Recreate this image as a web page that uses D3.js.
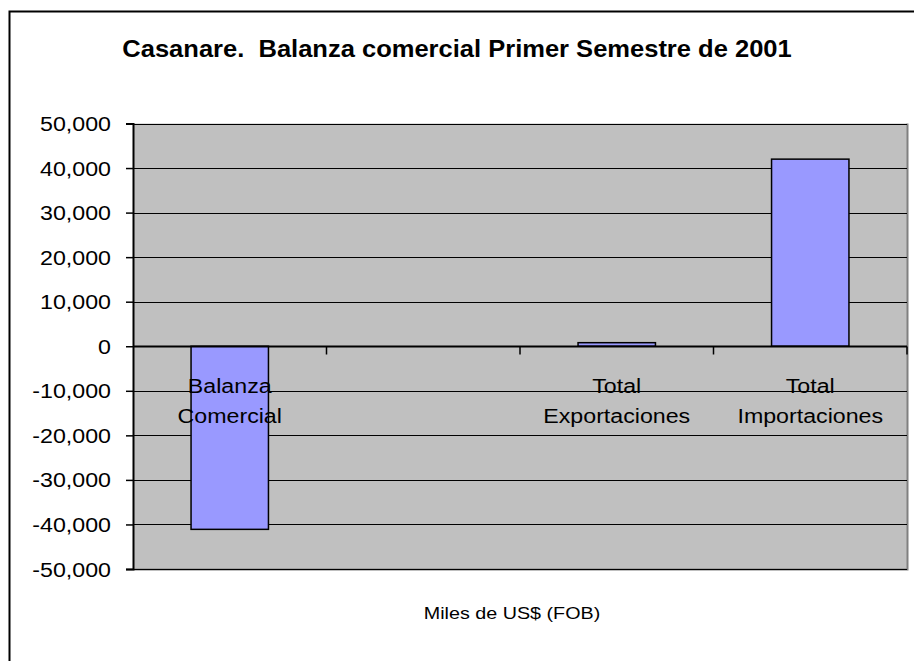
<!DOCTYPE html>
<html>
<head>
<meta charset="utf-8">
<script src="https://cdn.jsdelivr.net/npm/d3@7"></script>
<style>
  html, body { margin: 0; padding: 0; background: #fff; }
  text { font-family: "Liberation Sans", Arial, sans-serif; fill: #000; white-space: pre; }
</style>
</head>
<body>
<div id="chart"></div>
<script>
// datos (miles de US$ FOB)
const categorias = ["Balanza Comercial", "", "Total Exportaciones", "Total Importaciones"];
const valores = [-41100, 0, 800, 42000];
const ticksY = [-50000, -40000, -30000, -20000, -10000, 0, 10000, 20000, 30000, 40000, 50000];
const titulo = "Casanare.  Balanza comercial Primer Semestre de 2001";
const tituloEje = "Miles de US$ (FOB)";

const W = 914, H = 661;
const plot = { left: 133, right: 907, top: 123.5, bottom: 569 };
const SX = 1.16; // el texto del original esta algo estirado a lo ancho

// guion normal para los negativos, como en Excel
const fmt = d3.formatLocale({ decimal: ".", thousands: ",", grouping: [3], currency: ["$", ""], minus: "-" }).format(",");

const svg = d3.select("#chart").append("svg")
    .attr("width", W)
    .attr("height", H);

// marco del grafico
svg.append("rect")
    .attr("x", 9.5).attr("y", 11.5)
    .attr("width", 1000).attr("height", 1000)
    .attr("fill", "#fff")
    .attr("stroke", "#000")
    .attr("stroke-width", 2);

const x = d3.scaleBand()
    .domain(categorias.map((d, i) => i))
    .range([plot.left, plot.right])
    .paddingInner(0.6)
    .paddingOuter(0.3);
const paso = x.step();

const y = d3.scaleLinear()
    .domain([-50000, 50000])
    .range([plot.bottom, plot.top]);

// area de trazado
svg.append("rect")
    .attr("x", plot.left).attr("y", plot.top)
    .attr("width", plot.right - plot.left)
    .attr("height", plot.bottom - plot.top)
    .attr("fill", "#c0c0c0");
svg.append("path")
    .attr("d", `M${plot.right + 0.5},${plot.top} V${plot.bottom + 0.5} H${plot.left}`)
    .attr("fill", "none")
    .attr("stroke", "#808080")
    .attr("stroke-width", 2);

// lineas de division
svg.append("g")
    .selectAll("line")
    .data(ticksY)
    .join("line")
    .attr("x1", plot.left).attr("x2", plot.right)
    .attr("y1", d => Math.round(y(d)) + 0.5)
    .attr("y2", d => Math.round(y(d)) + 0.5)
    .attr("stroke", "#000")
    .attr("stroke-width", 1.2);

// eje Y
const ejeY = svg.append("g")
    .attr("transform", `translate(${plot.left},0)`)
    .call(d3.axisLeft(y).tickValues(ticksY).tickFormat(fmt).tickSize(7).tickPadding(0));
ejeY.select(".domain").attr("stroke", "#000").attr("stroke-width", 2);
ejeY.selectAll(".tick line").attr("stroke", "#000").attr("stroke-width", 1.5);
ejeY.selectAll(".tick text")
    .attr("font-size", 20)
    .attr("font-family", "Liberation Sans, Arial, sans-serif")
    .attr("text-anchor", "end")
    .attr("x", 0)
    .attr("dy", null)
    .attr("y", 0)
    .attr("transform", `translate(-22,7) scale(${SX},1)`);

// barras
svg.append("g")
    .selectAll("rect")
    .data(valores)
    .join("rect")
    .attr("x", (d, i) => x(i))
    .attr("width", x.bandwidth())
    .attr("y", d => y(Math.max(0, d)))
    .attr("height", d => Math.abs(y(d) - y(0)))
    .attr("fill", "#9999ff")
    .attr("stroke", "#000")
    .attr("stroke-width", 1.5)
    .style("display", d => d === 0 ? "none" : null);

// eje de categorias (en el cero)
const y0 = Math.round(y(0)) + 0.5;
svg.append("line")
    .attr("x1", plot.left).attr("x2", plot.right)
    .attr("y1", y0).attr("y2", y0)
    .attr("stroke", "#000")
    .attr("stroke-width", 2);
svg.append("g")
    .selectAll("line")
    .data(categorias)
    .join("line")
    .attr("x1", (d, i) => plot.left + paso * (i + 1))
    .attr("x2", (d, i) => plot.left + paso * (i + 1))
    .attr("y1", y0).attr("y2", y0 + 8)
    .attr("stroke", "#000")
    .attr("stroke-width", 1.5);

// etiquetas de categoria en dos lineas
const etiquetas = svg.append("g")
    .selectAll("text")
    .data(categorias)
    .join("text")
    .attr("font-size", 20)
    .attr("text-anchor", "middle")
    .attr("transform", (d, i) => `translate(${x(i) + x.bandwidth() / 2},${y0 + 46}) scale(${SX},1)`);
etiquetas.selectAll("tspan")
    .data(d => d ? d.split(" ") : [])
    .join("tspan")
    .attr("x", 0)
    .attr("y", (d, j) => j * 31)
    .text(d => d);

// titulo
svg.append("text")
    .attr("transform", `translate(457,57) scale(1.11,1)`)
    .attr("text-anchor", "middle")
    .attr("font-size", 23)
    .attr("font-weight", "bold")
    .text(titulo);

// titulo del eje
svg.append("text")
    .attr("transform", `translate(512,619) scale(${SX},1)`)
    .attr("text-anchor", "middle")
    .attr("font-size", 17)
    .text(tituloEje);
</script>
</body>
</html>
